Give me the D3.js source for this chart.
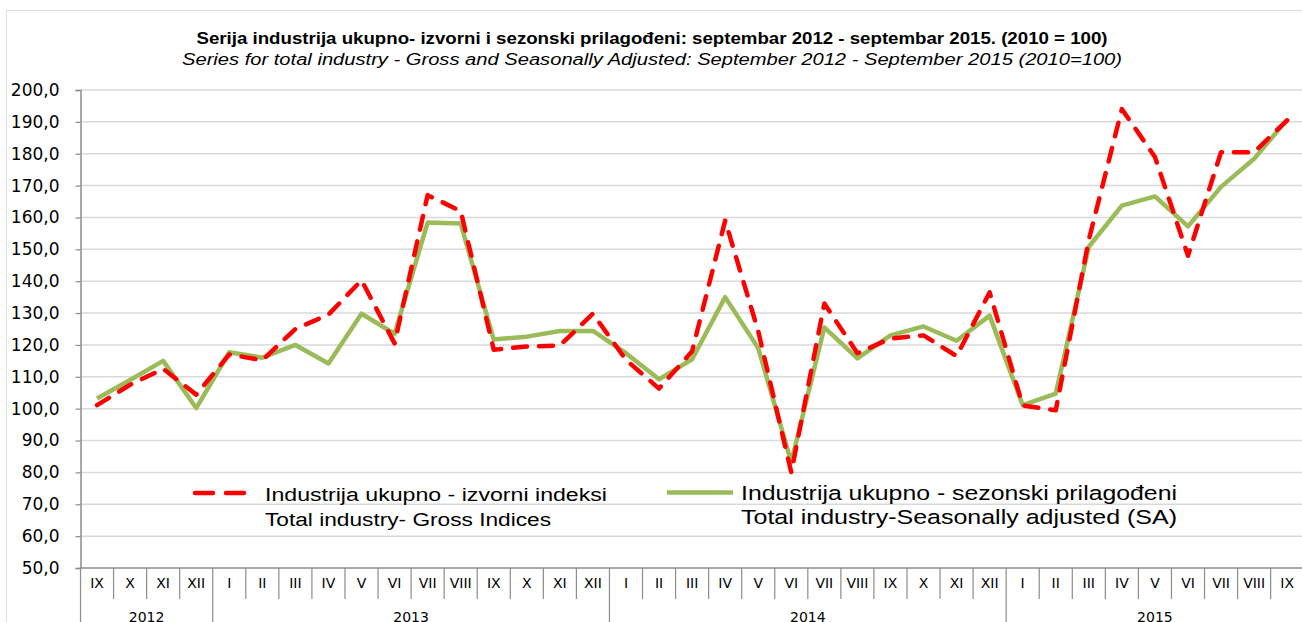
<!DOCTYPE html>
<html>
<head>
<meta charset="utf-8">
<script src="https://cdn.jsdelivr.net/npm/d3@7"></script>
<style>
  body { margin:0; background:#fff; }
  svg { display:block; }
</style>
</head>
<body>
<div id="chart"></div>
<script>
var months = ["IX","X","XI","XII",
  "I","II","III","IV","V","VI","VII","VIII","IX","X","XI","XII",
  "I","II","III","IV","V","VI","VII","VIII","IX","X","XI","XII",
  "I","II","III","IV","V","VI","VII","VIII","IX"];
var years = ["2012","2013","2014","2015"];
var yearMonths = [4,12,12,9];

var grossIndex = [101.1,107.5,112.5,104.4,
  117.0,115.2,125.0,129.5,140.3,120.5,167.0,162.0,118.5,119.5,119.8,129.8,
  115.3,106.3,118.0,159.0,124.3,80.0,133.0,117.4,122.0,123.0,116.5,136.5,
  101.0,99.5,153.0,194.0,179.0,148.0,180.5,180.5,190.5];
var saIndex = [103.2,109.0,115.0,100.2,
  117.7,116.0,120.0,114.2,129.8,123.5,158.4,158.1,121.7,122.6,124.4,124.4,
  117.4,109.2,115.5,135.0,119.0,83.2,125.5,115.8,123.0,125.8,121.3,129.2,
  101.1,104.7,150.8,163.7,166.6,157.2,169.6,178.4,190.7];
var yTicks = [50,60,70,80,90,100,110,120,130,140,150,160,170,180,190,200];

var titleSr = "Serija industrija ukupno- izvorni i sezonski prilagođeni: septembar 2012 -  septembar 2015. (2010 = 100)";
var titleEn = "Series for total industry - Gross and Seasonally Adjusted: September 2012 - September 2015 (2010=100)";
var legendGross = ["Industrija ukupno - izvorni indeksi","Total industry- Gross Indices"];
var legendSA = ["Industrija ukupno - sezonski prilagođeni","Total industry-Seasonally adjusted (SA)"];

var chartW = 1302, chartH = 622;
var plotL = 80.5, plotR = 1303.7, plotT = 90, plotB = 568;
var narrow = "'Liberation Sans Narrow','Arial Narrow','Liberation Sans',Arial,sans-serif";
var gridFont = "'DejaVu Sans',Verdana,sans-serif";

var svg = d3.select('#chart').append('svg')
    .attr('width',chartW)
    .attr('height',chartH);

// chart area frame
svg.append('rect')
    .attr('x',6.5).attr('y',10.5)
    .attr('width',chartW+10).attr('height',chartH+10)
    .style('fill','none')
    .style('stroke','#dedede')
    .style('stroke-width',1);

var x = d3.scaleBand()
    .domain(d3.range(months.length))
    .range([plotL,plotR])
    .padding(0);
var xc = i => x(i)+x.bandwidth()/2;

var y = d3.scaleLinear()
    .domain([50,200])
    .range([plotB,plotT]);

var commaLocale = d3.formatLocale({decimal:",",thousands:".",grouping:[3],currency:["",""]});
var fmt = commaLocale.format(".1f");

// gridlines
svg.append('g')
    .selectAll('line')
    .data(yTicks.filter(d => d>50))
    .enter()
    .append('line')
    .attr('x1',plotL).attr('x2',chartW)
    .attr('y1',d => y(d)).attr('y2',d => y(d))
    .style('stroke','#d9d9d9')
    .style('stroke-width',1.5);

var yAxis = d3.axisLeft(y)
    .tickValues(yTicks)
    .tickFormat(fmt)
    .tickSize(5)
    .tickPadding(16);

var yg = svg.append('g')
    .attr('transform','translate('+plotL+',0)')
    .call(yAxis);
yg.select('.domain').attr('stroke','#8c8c8c').attr('stroke-width',1.5);
yg.selectAll('.tick line').attr('stroke','#8c8c8c').attr('stroke-width',1.2);
yg.selectAll('.tick text')
    .style('font-family',gridFont)
    .style('font-size','17px')
    .style('fill','#000');

// category axis
var xg = svg.append('g');
xg.append('line')
    .attr('x1',plotL).attr('x2',plotR)
    .attr('y1',plotB).attr('y2',plotB)
    .style('stroke','#8c8c8c')
    .style('stroke-width',1.5);

var yearStarts = [0];
yearMonths.forEach((n,i) => yearStarts.push(yearStarts[i]+n));

xg.selectAll('.msep')
    .data(d3.range(months.length+1).filter(i => yearStarts.indexOf(i)<0))
    .enter()
    .append('line')
    .attr('class','msep')
    .attr('x1',i => x(0)+i*x.bandwidth()).attr('x2',i => x(0)+i*x.bandwidth())
    .attr('y1',plotB).attr('y2',plotB+31)
    .style('stroke','#8c8c8c')
    .style('stroke-width',1.2);

xg.selectAll('.ysep')
    .data(yearStarts)
    .enter()
    .append('line')
    .attr('class','ysep')
    .attr('x1',i => x(0)+i*x.bandwidth()).attr('x2',i => x(0)+i*x.bandwidth())
    .attr('y1',plotB).attr('y2',chartH+5)
    .style('stroke','#8c8c8c')
    .style('stroke-width',1.2);

xg.selectAll('.mlab')
    .data(months)
    .enter()
    .append('text')
    .attr('class','mlab')
    .attr('x',(d,i) => xc(i))
    .attr('y',587.5)
    .attr('text-anchor','middle')
    .style('font-family',gridFont)
    .style('font-size','14px')
    .text(d => d);

xg.selectAll('.ylab')
    .data(years)
    .enter()
    .append('text')
    .attr('class','ylab')
    .attr('x',(d,i) => x(0)+(yearStarts[i]+yearMonths[i]/2)*x.bandwidth())
    .attr('y',621.5)
    .attr('text-anchor','middle')
    .style('font-family',gridFont)
    .style('font-size','14px')
    .text(d => d);

// series
var line = d3.line()
    .x((d,i) => xc(i))
    .y(d => y(d));

svg.append('path')
    .datum(saIndex)
    .attr('d',line)
    .style('fill','none')
    .style('stroke','#9bbb59')
    .style('stroke-width',4.5)
    .style('stroke-linejoin','round');

svg.append('path')
    .datum(grossIndex)
    .attr('d',line)
    .style('fill','none')
    .style('stroke','#ff0000')
    .style('stroke-width',4.5)
    .style('stroke-dasharray','14,12')
    .style('stroke-linecap','round')
    .style('stroke-linejoin','round');

// titles
function fitText(sel,w){
    sel.attr('textLength',w).attr('lengthAdjust','spacingAndGlyphs');
}
svg.append('text')
    .attr('x',652).attr('y',43.5)
    .attr('text-anchor','middle')
    .style('font-family',narrow)
    .style('font-weight','bold')
    .style('font-size','16px')
    .text(titleSr)
    .call(fitText,911);
svg.append('text')
    .attr('x',652).attr('y',64.5)
    .attr('text-anchor','middle')
    .style('font-family',narrow)
    .style('font-style','italic')
    .style('font-size','16px')
    .text(titleEn)
    .call(fitText,940);

// legend
var lg = svg.append('g');
lg.append('line')
    .attr('x1',195).attr('x2',249)
    .attr('y1',493).attr('y2',493)
    .style('stroke','#ff0000')
    .style('stroke-width',4.5)
    .style('stroke-dasharray','18,13')
    .style('stroke-linecap','round');
lg.append('text').attr('x',265).attr('y',500.5)
    .style('font-family',narrow).style('font-size','18px')
    .text(legendGross[0]).call(fitText,342);
lg.append('text').attr('x',265).attr('y',526)
    .style('font-family',narrow).style('font-size','18px')
    .text(legendGross[1]).call(fitText,286);

lg.append('line')
    .attr('x1',667).attr('x2',733)
    .attr('y1',492.5).attr('y2',492.5)
    .style('stroke','#9bbb59')
    .style('stroke-width',4.5);
lg.append('text').attr('x',741).attr('y',500)
    .style('font-family',narrow).style('font-size','20.5px')
    .text(legendSA[0]).call(fitText,436);
lg.append('text').attr('x',741).attr('y',523.5)
    .style('font-family',narrow).style('font-size','20.5px')
    .text(legendSA[1]).call(fitText,436);
</script>
</body>
</html>
